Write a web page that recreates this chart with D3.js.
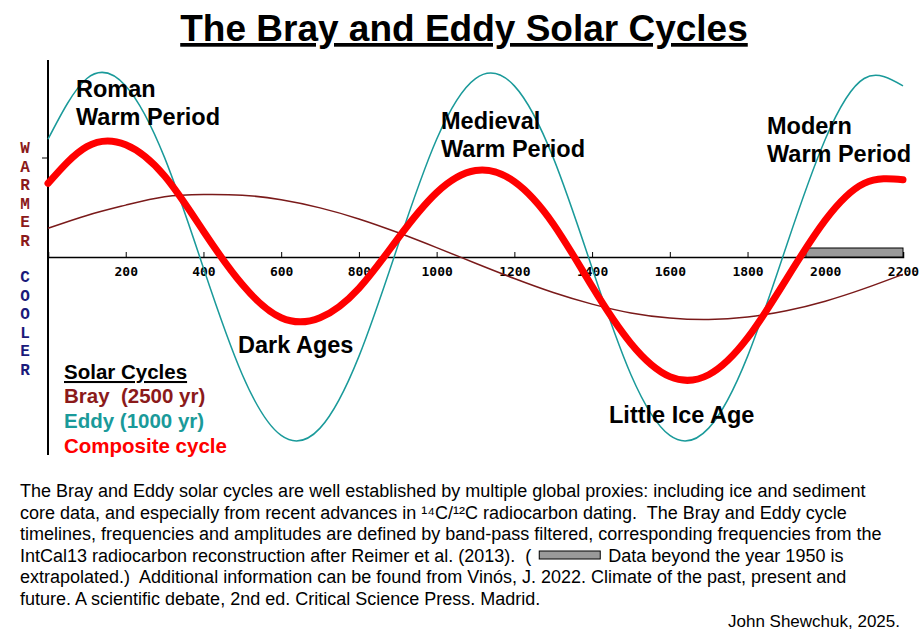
<!DOCTYPE html>
<html><head><meta charset="utf-8">
<script src="https://cdn.jsdelivr.net/npm/d3@7"></script>
<style>body{margin:0;background:#fff}svg{font-family:Arial,"Liberation Sans",sans-serif}</style>
</head><body><svg width="920" height="638"></svg>
<script>
var years = [0,100,200,300,400,500,600,700,800,900,1000,1100,1200,1300,1400,1500,1600,1700,1800,1900,2000,2100,2200];
var eddy = [0.64,0.97,0.93,0.54,-0.06,-0.64,-0.97,-0.93,-0.54,0.06,0.64,0.97,0.93,0.54,-0.06,-0.64,-0.97,-0.93,-0.54,0.06,0.64,0.97,0.93];
var bray = [0.156,0.226,0.282,0.328,0.340,0.336,0.311,0.267,0.207,0.133,0.051,-0.034,-0.117,-0.193,-0.256,-0.304,-0.332,-0.340,-0.326,-0.292,-0.240,-0.172,-0.094];
var composite = [0.40,0.60,0.61,0.44,0.14,-0.15,-0.33,-0.33,-0.17,0.10,0.35,0.47,0.41,0.18,-0.16,-0.47,-0.65,-0.64,-0.44,-0.12,0.20,0.40,0.42];
var tickYears = [200,400,600,800,1000,1200,1400,1600,1800,2000,2200];
var extrapStart = 1950;

var svg = d3.select("svg");
var x = d3.scaleLinear().domain([0,2200]).range([48,903]);
var y = d3.scaleLinear().domain([-1,1]).range([441,73]);

svg.append("text").attr("x",464).attr("y",41).attr("text-anchor","middle")
  .attr("font-size",37).attr("font-weight","bold").attr("text-decoration","underline")
  .text("The Bray and Eddy Solar Cycles");

// axes
svg.append("line").attr("x1",48).attr("x2",48).attr("y1",60).attr("y2",455).attr("stroke","#000").attr("stroke-width",2);
svg.append("line").attr("x1",42).attr("x2",48).attr("y1",158).attr("y2",158).attr("stroke","#000");
var xAxis = d3.axisBottom(x).tickValues(tickYears).tickSize(-5).tickFormat(d3.format("d"));
var ax = svg.append("g").attr("transform","translate(0,"+y(0)+")").call(xAxis);
ax.select(".domain").attr("stroke-width",1.5);
ax.selectAll("text").attr("font-size",13).attr("font-weight","bold").attr("dy","1.2em").attr("font-family","DejaVu Sans Mono, monospace");

svg.append("rect").attr("x",x(extrapStart)).attr("y",y(0)-9).attr("width",x(2200)-x(extrapStart)).attr("height",9)
  .attr("fill","#999").attr("stroke","#000");

var line = function(vals){return d3.line().x((d,i)=>x(years[i])).y(d=>y(d)).curve(d3.curveNatural)(vals);};
svg.append("path").attr("d",line(eddy)).attr("fill","none").attr("stroke","#1a9a9a").attr("stroke-width",1.5);
svg.append("path").attr("d",line(bray)).attr("fill","none").attr("stroke","#7a1a1a").attr("stroke-width",1.5);
svg.append("path").attr("d",line(composite)).attr("fill","none").attr("stroke","#ff0000").attr("stroke-width",7).attr("stroke-linecap","round");

// vertical labels
"WARMER".split("").forEach(function(c,i){
  svg.append("text").attr("x",25).attr("y",153+i*18.5).attr("text-anchor","middle").attr("font-family","Liberation Mono, monospace")
    .attr("font-weight","bold").attr("font-size",16).attr("fill","#8b1a1a").text(c);});
"COOLER".split("").forEach(function(c,i){
  svg.append("text").attr("x",25).attr("y",282+i*18.5).attr("text-anchor","middle").attr("font-family","Liberation Mono, monospace")
    .attr("font-weight","bold").attr("font-size",16).attr("fill","#1a1a7a").text(c);});

function lbl(lines,x0,y0){lines.forEach(function(t,i){svg.append("text").attr("x",x0).attr("y",y0+i*28)
  .attr("font-size",23.5).attr("font-weight","bold").text(t);});}
lbl(["Roman","Warm Period"],76,97);
lbl(["Medieval","Warm Period"],441,129);
lbl(["Modern","Warm Period"],767,134);
lbl(["Dark Ages"],238,353);
lbl(["Little Ice Age"],609,423);

// legend
svg.append("text").attr("x",64).attr("y",379).attr("font-size",20.5).attr("font-weight","bold").attr("text-decoration","underline").text("Solar Cycles");
svg.append("text").attr("x",64).attr("y",403).attr("font-size",20.5).attr("font-weight","bold").attr("fill","#8b1a1a").attr("xml:space","preserve").text("Bray  (2500 yr)");
svg.append("text").attr("x",64).attr("y",428).attr("font-size",20.5).attr("font-weight","bold").attr("fill","#1a9a9a").text("Eddy (1000 yr)");
svg.append("text").attr("x",64).attr("y",453).attr("font-size",20.5).attr("font-weight","bold").attr("fill","#ff0000").text("Composite cycle");

// caption
var cap = svg.append("g").attr("font-size",18);
var capLines = [
 "The Bray and Eddy solar cycles are well established by multiple global proxies: including ice and sediment",
 "core data, and especially from recent advances in ¹⁴C/¹²C radiocarbon dating.  The Bray and Eddy cycle",
 "timelines, frequencies and amplitudes are defined by band-pass filtered, corresponding frequencies from the",
 null,
 "extrapolated.)  Additional information can be found from Vinós, J. 2022. Climate of the past, present and",
 "future. A scientific debate, 2nd ed. Critical Science Press. Madrid."];
capLines.forEach(function(t,i){if(t)cap.append("text").attr("x",20).attr("y",497+i*21.5).attr("xml:space","preserve").text(t);});
var p1 = cap.append("text").attr("x",20).attr("y",561.5).attr("xml:space","preserve").text("IntCal13 radiocarbon reconstruction after Reimer et al. (2013).  ( ");
var w1 = p1.node().getComputedTextLength();
svg.append("rect").attr("x",20+w1+3).attr("y",551).attr("width",61).attr("height",8).attr("fill","#999").attr("stroke","#000");
cap.append("text").attr("x",20+w1+72).attr("y",561.5).attr("xml:space","preserve").text("Data beyond the year 1950 is");
svg.append("text").attr("x",900).attr("y",627).attr("text-anchor","end").attr("font-size",17).text("John Shewchuk, 2025.");
</script></body></html>
